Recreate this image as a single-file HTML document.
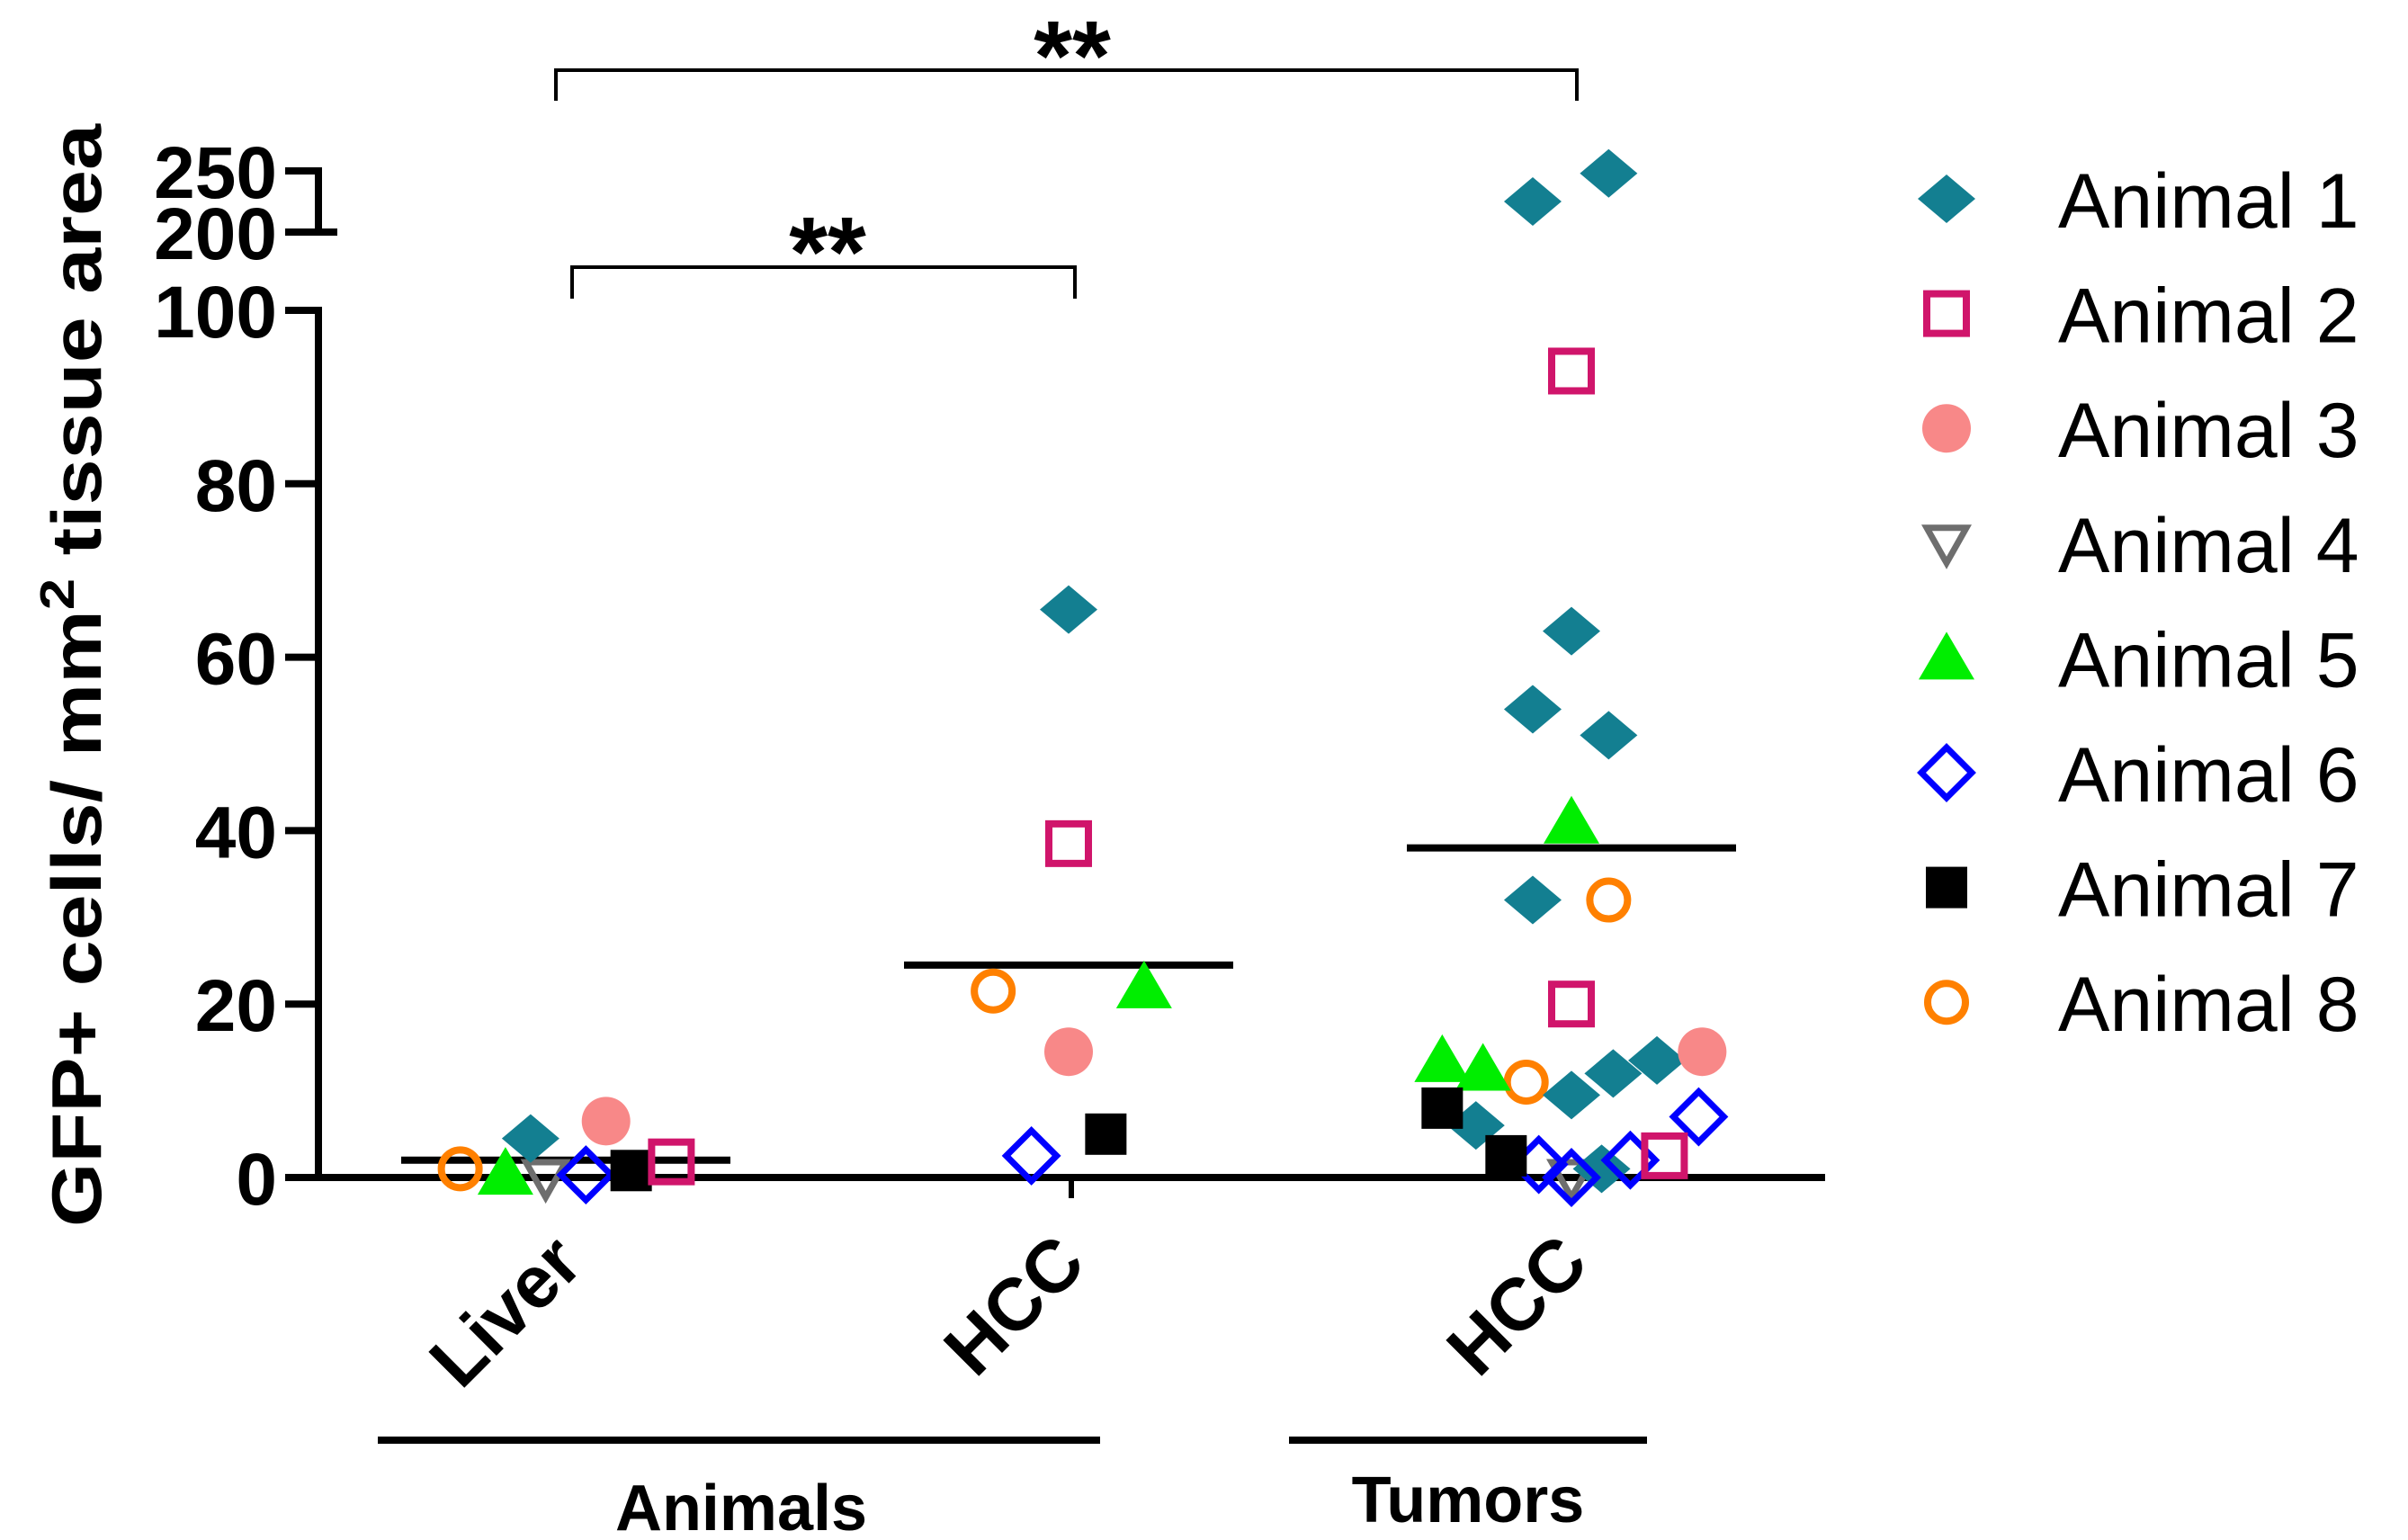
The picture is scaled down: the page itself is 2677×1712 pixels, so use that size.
<!DOCTYPE html>
<html><head><meta charset="utf-8"><style>
html,body{margin:0;padding:0;background:#fff;}
svg{display:block;font-family:"Liberation Sans",Arial,sans-serif;}
</style></head><body>
<svg id="chart" width="2677" height="1712" viewBox="0 0 2677 1712">
<g id="axes"></g>
<g id="marks"></g>
<g id="legend"></g>
</svg>
<script>
// ---- data ----
const categories = ["Liver", "HCC", "HCC"];
const groupNames = ["Animals", "Tumors"];
const seriesNames = ["Animal 1","Animal 2","Animal 3","Animal 4","Animal 5","Animal 6","Animal 7","Animal 8"];
const means = [2, 24.5, 38];
const yTicks = [0, 20, 40, 60, 80, 100];
const yTicksUpper = [200, 250];
// points per series: category index, value, jitter (category units)
const a1Cat = [0, 1, 2,2,2,2,2,2,2,2,2,2,2];
const a1Val = [4.5, 65.5, 225,248,63,54,51,32,9.5,12,13.5,6,1];
const a1Jit = [-0.07, 0, -0.077,0.074,0,-0.077,0.074,-0.077,0,0.083,0.17,-0.19,0.06];
const a2Cat = [0, 1, 2,2,2];
const a2Val = [1.8, 38.5, 93,20,2.5];
const a2Jit = [0.21, 0, 0,0,0.185];
const a3Cat = [0, 1, 2];
const a3Val = [6.5, 14.5, 14.5];
const a3Jit = [0.08, 0, 0.26];
const a4Cat = [0, 2];
const a4Val = [0, 0];
const a4Jit = [-0.04, 0];
const a5Cat = [0, 1, 2,2,2];
const a5Val = [0.5, 22, 41,13.5,12.5];
const a5Jit = [-0.12, 0.15, 0,-0.257,-0.176];
const a6Cat = [0, 1, 2,2,2,2];
const a6Val = [0.3, 2.5, 1.5,0,2,7];
const a6Jit = [0.04, -0.074, -0.065,0,0.117,0.253];
const a7Cat = [0, 1, 2,2];
const a7Val = [0.8, 5, 8,2.5];
const a7Jit = [0.13, 0.074, -0.257,-0.13];
const a8Cat = [0, 1, 2,2];
const a8Val = [1, 21.5, 32,11];
const a8Jit = [-0.21, -0.15, 0.074,-0.09];

const NS = "http://www.w3.org/2000/svg";
const X0 = 629, XSTEP = 559;
function xScale(c){ return X0 + c*XSTEP; }
function yScale(v){
  if (v <= 100) return 1309 - v*9.64;
  return 258 - (v-200)*(68/50);
}
function mk(tag, attrs, parent){
  const e = document.createElementNS(NS, tag);
  for (const k in attrs) e.setAttribute(k, attrs[k]);
  parent.appendChild(e);
  return e;
}
const axes = document.getElementById('axes');
const marks = document.getElementById('marks');
const legend = document.getElementById('legend');

// y axis lower
let el = mk('line',{x1:354,y1:1313,x2:354,y2:yScale(100)-4,stroke:'#000','stroke-width':8},axes);


yTicks.forEach(t=>{
  const y = yScale(t);
  const tk = mk('line',{x1:317,y1:y,x2:358,y2:y,stroke:'#000','stroke-width':8},axes);
  
  
  const lb = mk('text',{x:308,y:y+30,'text-anchor':'end','font-size':82,'font-weight':'bold'},axes);
  lb.textContent = t;
  
  
});
// upper segment
el = mk('line',{x1:354,y1:yScale(250)-4,x2:354,y2:yScale(200)+4,stroke:'#000','stroke-width':8},axes);


yTicksUpper.forEach((t,i)=>{
  const y = yScale(t);
  const tk = mk('line',{x1:317,y1:y,x2:i==0?375:358,y2:y,stroke:'#000','stroke-width':8},axes);
  
  
  const lb = mk('text',{x:308,y:y+30,'text-anchor':'end','font-size':82,'font-weight':'bold'},axes);
  lb.textContent = t;
  
  
});
// y title
el = mk('text',{x:0,y:0,'text-anchor':'middle','font-size':78,'font-weight':'bold',transform:'translate(112,751) rotate(-90)',textLength:1226,lengthAdjust:'spacingAndGlyphs'},axes);
el.innerHTML = 'GFP+ cells/ mm<tspan dy="-30" font-size="54">2</tspan><tspan dy="30"> tissue area</tspan>';


// x axis
el = mk('line',{x1:328,y1:1309,x2:2029,y2:1309,stroke:'#000','stroke-width':8},axes);


el = mk('line',{x1:xScale(1)+3,y1:1309,x2:xScale(1)+3,y2:1332,stroke:'#000','stroke-width':6},axes);


categories.forEach((c,i)=>{
  const x = xScale(i)+22, y = 1408;
  const t = mk('text',{x:x,y:y,'text-anchor':'end','font-size':82,'font-weight':'bold',transform:`rotate(-45 ${x} ${y})`},axes);
  t.textContent = c;
  
  
});
// group lines
[[420,1223,824,1701],[1433,1831,1632,1692]].forEach((g,i)=>{
  const l = mk('line',{x1:g[0],y1:1601,x2:g[1],y2:1601,stroke:'#000','stroke-width':8},axes);
  
  
  const t = mk('text',{x:g[2],y:g[3],'text-anchor':'middle','font-size':72,'font-weight':'bold'},axes);
  t.textContent = groupNames[i];
  
  
});
// significance brackets
[[618,1753,78,112,1192,100],[636,1195,297,332,920,318]].forEach(b=>{
  const p = mk('path',{d:`M${b[0]},${b[3]} V${b[2]} H${b[1]} V${b[3]}`,fill:'none',stroke:'#000','stroke-width':4},axes);
  
  
  const t = mk('text',{x:b[4],y:b[5],'text-anchor':'middle','font-size':110,'font-weight':'bold'},axes);
  t.textContent = '**';
  
  
});
// mean lines
means.forEach((m,i)=>{
  const x = xScale(i);
  const l = mk('line',{x1:x-183,y1:yScale(m),x2:x+183,y2:yScale(m),stroke:'#000','stroke-width':8},marks);
  
  
});

// marker drawing
function marker(type, cx, cy, parent){
  let e;
  switch(type){
    case 0: e = mk('polygon',{points:`${cx-32},${cy} ${cx},${cy-27} ${cx+32},${cy} ${cx},${cy+27}`,fill:'#137f91'},parent); break;
    case 1: e = mk('rect',{x:cx-22,y:cy-22,width:44,height:44,fill:'none',stroke:'#d0156b','stroke-width':8},parent); break;
    case 2: e = mk('circle',{cx:cx,cy:cy,r:27,fill:'#f88888'},parent); break;
    case 3: e = mk('polygon',{points:`${cx-22},${cy-17} ${cx+22},${cy-17} ${cx},${cy+22}`,fill:'none',stroke:'#6e6e6e','stroke-width':7},parent); break;
    case 4: e = mk('polygon',{points:`${cx-31},${cy+24} ${cx+31},${cy+24} ${cx},${cy-29}`,fill:'#00ee00'},parent); break;
    case 5: e = mk('polygon',{points:`${cx-28},${cy} ${cx},${cy-28} ${cx+28},${cy} ${cx},${cy+28}`,fill:'none',stroke:'#0000ff','stroke-width':7},parent); break;
    case 6: e = mk('rect',{x:cx-23,y:cy-23,width:46,height:46,fill:'#000'},parent); break;
    case 7: e = mk('circle',{cx:cx,cy:cy,r:21,fill:'none',stroke:'#ff8000','stroke-width':8},parent); break;
  }
  return e;
}
const seriesCats = [a1Cat,a2Cat,a3Cat,a4Cat,a5Cat,a6Cat,a7Cat,a8Cat];
const seriesVals = [a1Val,a2Val,a3Val,a4Val,a5Val,a6Val,a7Val,a8Val];
const seriesJits = [a1Jit,a2Jit,a3Jit,a4Jit,a5Jit,a6Jit,a7Jit,a8Jit];
[3,7,4,0,2,5,6,1].forEach(s=>{
  seriesVals[s].forEach((v,i)=>{
    const p = marker(s, xScale(seriesCats[s][i] + seriesJits[s][i]), yScale(v), marks);
    
    
  });
});
// legend
seriesNames.forEach((n,i)=>{
  const y = 221 + i*127.6;
  const m = marker(i, 2164, y, legend);
  
  
  const t = mk('text',{x:2288,y:y+32,'font-size':86},legend);
  t.textContent = n;
  
  
});
</script>
</body></html>
